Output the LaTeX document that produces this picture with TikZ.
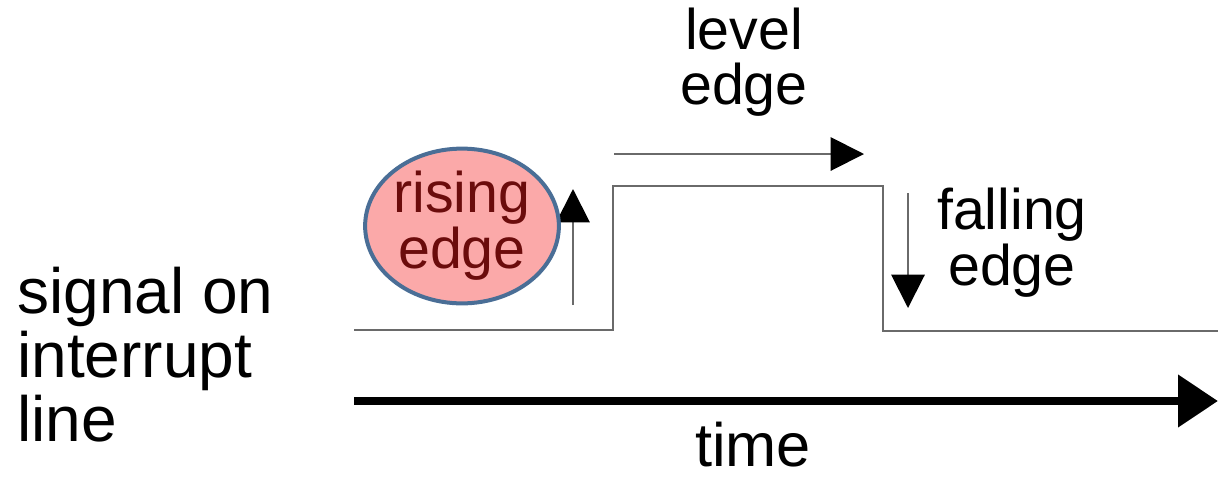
\documentclass[tikz,border=0pt]{standalone}
\usepackage{fontspec}
\setmainfont{Liberation Sans}
\usetikzlibrary{arrows.meta,shapes.geometric}
\definecolor{sig}{HTML}{6A6A6A}
\definecolor{ellfill}{HTML}{FBA9A9}
\definecolor{elldraw}{HTML}{4A6E96}
\definecolor{elltext}{HTML}{6B0C0C}
\tikzset{
  signal/.style={draw=sig, line width=2.2pt},
  edgearrow/.style={draw=sig, line width=1.5pt, -{Triangle[length=25pt,width=25pt,color=black]}},
  timearrow/.style={draw=black, line width=6.5pt, -{Triangle[length=30pt,width=38pt]}},
  lbl/.style={inner sep=0pt, align=center, text=black},
}
\begin{document}
\begin{tikzpicture}[x=0.75pt,y=-0.75pt]
\useasboundingbox (0,0) rectangle (1218,476);
% signal
\coordinate (s0) at (354,330);
\coordinate (s1) at (613,330);
\coordinate (s2) at (613,186);
\coordinate (s3) at (883,186);
\coordinate (s4) at (883,331);
\coordinate (s5) at (1218,331);
\draw[signal] (s0) -- (s1) -- (s2) -- (s3) -- (s4) -- (s5);
% level edge arrow
\coordinate (l0) at (614,154);
\coordinate (l1) at (864,154);
\draw[edgearrow] (l0) -- (l1);
% rising edge arrow
\coordinate (r0) at (573,305);
\coordinate (r1) at (573,189);
\draw[edgearrow] (r0) -- (r1);
% falling edge arrow
\coordinate (f0) at (908,193);
\coordinate (f1) at (908,308);
\draw[edgearrow] (f0) -- (f1);
% time arrow
\coordinate (t0) at (354,401);
\coordinate (t1) at (1218,401);
\draw[timearrow] (t0) -- (t1);
% labels
\node[draw=elldraw, fill=ellfill, line width=3pt, ellipse, minimum width=145pt, minimum height=109pt, inner sep=0pt, text=elltext, align=center, font=\fontsize{43}{42}\selectfont] (rise) at (462,226) {rising\\edge};
\node[lbl, font=\fontsize{43}{41}\selectfont] (level) at (744,62) {level\\edge};
\node[lbl, font=\fontsize{43}{42}\selectfont] (fall) at (1012,243) {falling\\edge};
\node[lbl, align=left, anchor=west, font=\fontsize{48}{48}\selectfont] (sig) at (17,355) {signal on\\interrupt\\line};
\node[lbl, anchor=base, font=\fontsize{46}{46}\selectfont] (time) at (753,466) {time};
\end{tikzpicture}
\end{document}
